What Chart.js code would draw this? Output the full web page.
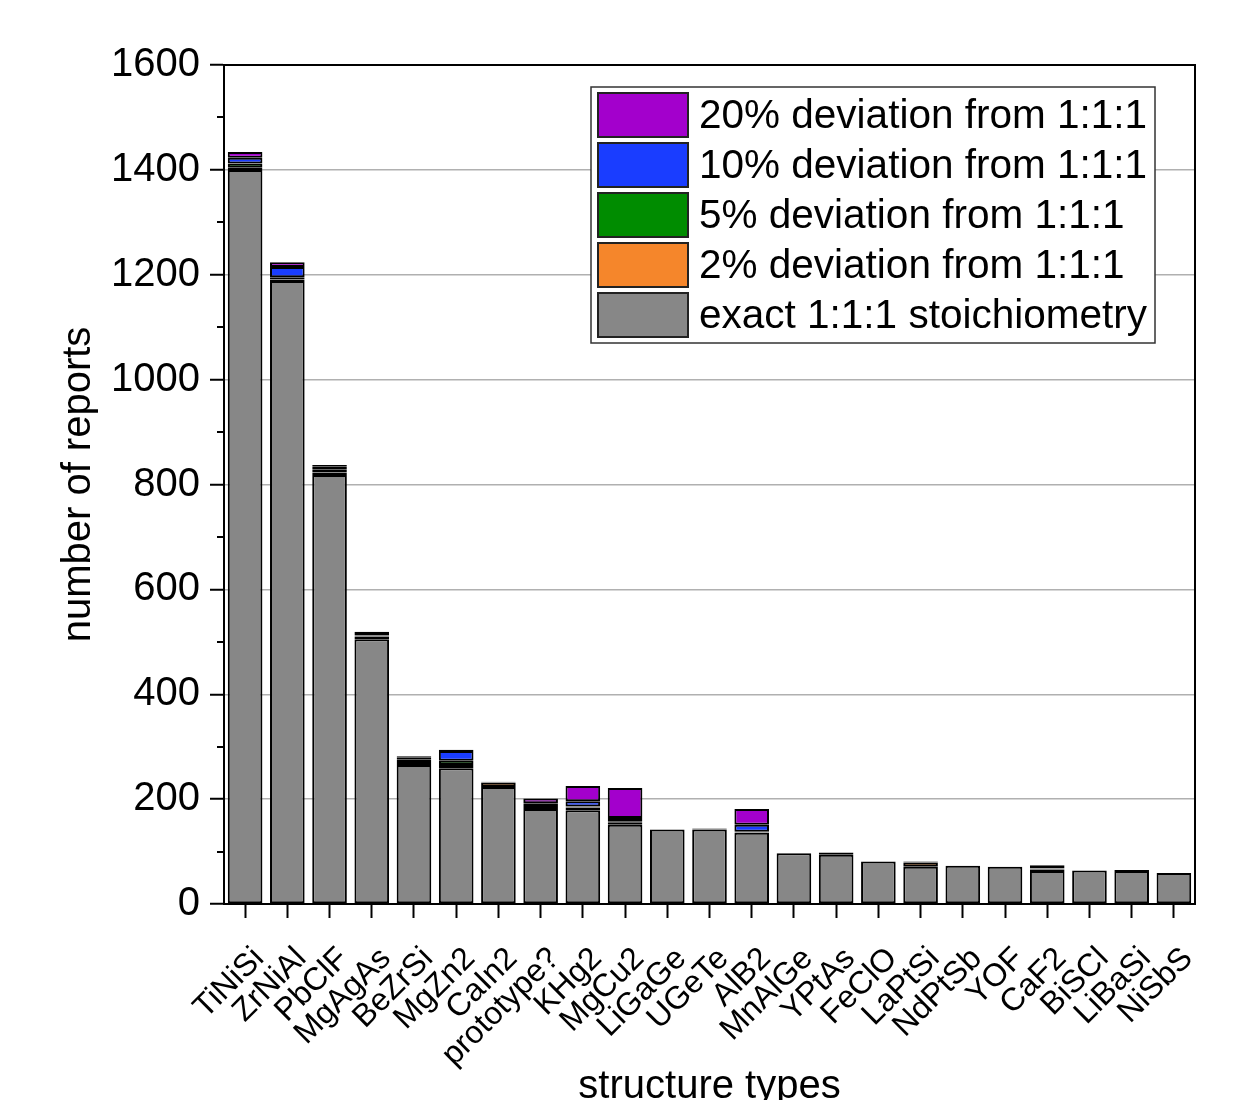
<!DOCTYPE html>
<html>
<head>
<meta charset="utf-8">
<script src="https://cdn.jsdelivr.net/npm/chart.js@4.4.1/dist/chart.umd.min.js"></script>
<style>
  html, body { margin: 0; padding: 0; background: #fff; }
  #wrap { width: 1239px; height: 1100px; }
</style>
</head>
<body>
<div id="wrap"><canvas id="chart" width="1239" height="1100"></canvas></div>
<script>
/* ===== DATA ===== */
const categories = ['TiNiSi', 'ZrNiAl', 'PbClF', 'MgAgAs', 'BeZrSi', 'MgZn2', 'CaIn2', 'prototype?',
  'KHg2', 'MgCu2', 'LiGaGe', 'UGeTe', 'AlB2', 'MnAlGe', 'YPtAs', 'FeClO', 'LaPtSi', 'NdPtSb',
  'YOF', 'CaF2', 'BiSCl', 'LiBaSi', 'NiSbS'];

const exact  = [1400, 1188, 818, 505, 265, 259, 223, 181, 179, 151, 142, 142, 136, 97, 94, 81, 71, 73, 71, 63, 64, 63, 59];
const dev2   = [4, 3, 5, 5, 6, 6, 8, 8, 5, 4, 0, 2, 1, 0, 4, 0, 8, 0, 0, 3, 0, 2, 0];
const dev5   = [8, 4, 6, 1, 5, 8, 1, 3, 2, 2, 0, 0, 1, 0, 0, 0, 2, 0, 0, 1, 0, 0, 0];
const dev10  = [11, 20, 6, 1, 3, 19, 0, 0, 10, 7, 0, 0, 13, 0, 0, 0, 0, 0, 0, 1, 0, 0, 0];
const dev20  = [11, 9, 2, 7, 3, 2, 1, 9, 29, 57, 0, 0, 30, 0, 0, 0, 0, 0, 0, 6, 0, 0, 0];

const yTicks = [0, 200, 400, 600, 800, 1000, 1200, 1400, 1600];

const FONT = "'Liberation Sans', Arial, sans-serif";

/* ===== PLUGINS ===== */
// minor ticks at the odd hundreds + black frame round the plot
const framePlugin = {
  id: 'frame',
  afterDraw(chart) {
    const { ctx, chartArea: a, scales: { y } } = chart;
    ctx.save();
    ctx.strokeStyle = '#000';
    ctx.lineWidth = 2;
    ctx.beginPath();
    for (let v = 100; v < 1600; v += 200) {
      const py = Math.round(y.getPixelForValue(v));
      ctx.moveTo(a.left - 7, py);
      ctx.lineTo(a.left, py);
    }
    ctx.moveTo(a.left, a.top);
    ctx.lineTo(a.right, a.top);
    ctx.lineTo(a.right, a.bottom);
    ctx.lineTo(a.left, a.bottom);
    ctx.stroke();
    ctx.restore();
  }
};

// boxed legend inside the plot, top right
const boxLegend = {
  id: 'boxLegend',
  afterDraw(chart) {
    const { ctx } = chart;
    const sets = chart.data.datasets.slice().reverse();
    const x0 = 591, y0 = 87, w = 564, rowH = 50;
    ctx.save();
    ctx.fillStyle = '#fff';
    ctx.fillRect(x0, y0, w, rowH * sets.length + 6);
    ctx.strokeStyle = '#333';
    ctx.lineWidth = 1.5;
    ctx.strokeRect(x0, y0, w, rowH * sets.length + 6);
    ctx.font = `40.5px ${FONT}`;
    ctx.textBaseline = 'middle';
    ctx.textAlign = 'left';
    sets.forEach((ds, i) => {
      const top = y0 + 6 + i * rowH;
      ctx.fillStyle = ds.backgroundColor;
      ctx.fillRect(x0 + 7, top, 90, 44);
      ctx.strokeStyle = '#222';
      ctx.lineWidth = 2;
      ctx.strokeRect(x0 + 7, top, 90, 44);
      ctx.fillStyle = '#000';
      ctx.fillText(ds.label, x0 + 108, top + 24);
    });
    ctx.restore();
  }
};

const mkSet = (label, data, color) => ({
  label, data, backgroundColor: color,
  borderColor: '#000', borderWidth: 2, borderSkipped: false,
  barPercentage: 0.82, categoryPercentage: 1
});

new Chart(document.getElementById('chart'), {
  type: 'bar',
  data: {
    labels: categories,
    datasets: [
      mkSet('exact 1:1:1 stoichiometry', exact, '#878787'),
      mkSet('2% deviation from 1:1:1', dev2, '#f5862b'),
      mkSet('5% deviation from 1:1:1', dev5, '#008c00'),
      mkSet('10% deviation from 1:1:1', dev10, '#1a3dff'),
      mkSet('20% deviation from 1:1:1', dev20, '#a300cc')
    ]
  },
  options: {
    responsive: false,
    animation: false,
    devicePixelRatio: 1,
    layout: { padding: { top: 65, right: 44, left: 0, bottom: 0 } },
    plugins: { legend: { display: false }, tooltip: { enabled: false } },
    scales: {
      x: {
        stacked: true,
        afterFit: s => { s.height = 196; },
        grid: { drawOnChartArea: false, offset: false, tickLength: 14, tickColor: '#000', tickWidth: 2 },
        border: { display: true, color: '#000', width: 2 },
        ticks: {
          color: '#000', font: { family: FONT, size: 32 },
          maxRotation: 45, minRotation: 45, autoSkip: false,
          padding: 22, labelOffset: 14
        },
        title: {
          display: true, text: 'structure types', color: '#000',
          font: { family: FONT, size: 40 }, padding: { top: 0, bottom: -11 }
        }
      },
      y: {
        stacked: true,
        min: 0, max: 1600,
        afterFit: s => { s.width = 224; },
        afterBuildTicks: s => { s.ticks = yTicks.map(v => ({ value: v })); },
        grid: {
          color: c => (c.tick && (c.tick.value === 0 || c.tick.value === 1600)) ? 'rgba(0,0,0,0)' : '#b0b0b0',
          lineWidth: 1.5, tickColor: '#000', tickWidth: 2, tickLength: 14
        },
        border: { display: true, color: '#000', width: 2 },
        ticks: { color: '#000', font: { family: FONT, size: 40 }, padding: 10, callback: v => String(v) },
        title: {
          display: true, text: 'number of reports', color: '#000',
          font: { family: FONT, size: 40 }, padding: { top: 55, bottom: 0 }
        }
      }
    }
  },
  plugins: [framePlugin, boxLegend]
});
</script>
</body>
</html>
